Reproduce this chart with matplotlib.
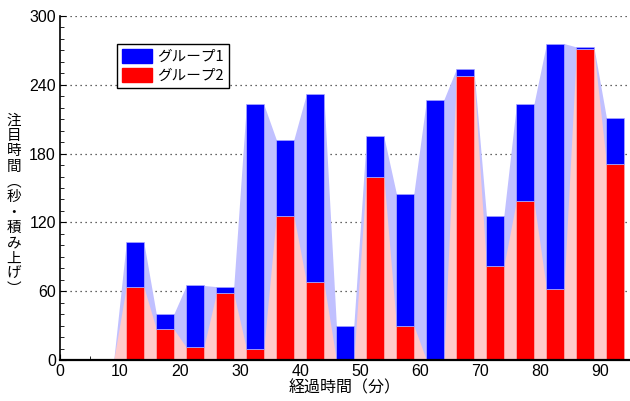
import numpy as np
import matplotlib
matplotlib.use('Agg')
import matplotlib.pyplot as plt
from matplotlib.ticker import MultipleLocator
from matplotlib.patches import Patch

plt.rcParams['font.family'] = ['Liberation Sans', 'Noto Sans CJK JP', 'DejaVu Sans']

# 経過時間（分）ごとの注目時間
minutes = [2.5, 7.5, 12.5, 17.5, 22.5, 27.5, 32.5, 37.5, 42.5, 47.5,
           52.5, 57.5, 62.5, 67.5, 72.5, 77.5, 82.5, 87.5, 92.5]
group2 = [0, 0, 64, 27, 11, 58, 10, 126, 68, 0,
          160, 30, 0, 248, 82, 139, 62, 271, 171]
group1 = [0, 0, 39, 13, 54, 6, 213, 66, 164, 30,
          35, 115, 227, 6, 44, 84, 214, 2, 40]
labels = ['グループ1', 'グループ2']

x = np.array(minutes)
g1 = np.array(group1)
g2 = np.array(group2)
total = g1 + g2
w = 2.9

fig = plt.figure(figsize=(6.3, 4.01), dpi=100)
ax = fig.add_axes([60/630, 41/401, 569/630, 344/401])

# 棒の間を台形でつなぐ塗りつぶし
xe = np.ravel(np.column_stack([x - w/2, x + w/2]))
ax.fill_between(xe, 0, np.repeat(total, 2), color='#c0c0ff', lw=0, zorder=1)
ax.fill_between(xe, 0, np.repeat(g2, 2), color='#ffcaca', lw=0, zorder=1.5)

ax.bar(x, g2, width=w, color='#ff0000', edgecolor='#ffb0b0', lw=0.5, zorder=2)
ax.bar(x, g1, width=w, bottom=g2, color='#0000ff', edgecolor='#b0b0ff', lw=0.5, zorder=2)

ax.set_xlim(0, 94.8)
ax.set_ylim(0, 300)
ax.set_yticks(range(0, 301, 60))
ax.xaxis.set_minor_locator(MultipleLocator(5))
ax.yaxis.set_minor_locator(MultipleLocator(10))
ax.set_xticks(range(0, 91, 10))
ax.grid(axis='y', which='major', ls=(0, (1, 3)), color='#333333', lw=0.9, zorder=0)
ax.set_axisbelow(True)

for s in ['top', 'right']:
    ax.spines[s].set_visible(False)
ax.spines['left'].set_linewidth(1.2)
ax.spines['bottom'].set_linewidth(1.6)
ax.tick_params(which='both', direction='in', labelsize=11.5, pad=3)
ax.tick_params(which='major', length=4)
ax.tick_params(which='minor', length=3)

ax.set_xlabel('経過時間（分）', fontsize=11.5, labelpad=0,
              family=['Noto Sans CJK JP', 'DejaVu Sans'])

# 縦書きの軸ラベル
ylab = '\n'.join('注目時間︵秒・積み上げ︶')
fig.text(14/630, 1 - 205/401, ylab, fontsize=10.5, linespacing=1.12,
         ha='center', va='center', family=['Noto Sans CJK JP', 'DejaVu Sans'])

handles = [Patch(facecolor='#0000ff', edgecolor='#0000ff'),
           Patch(facecolor='#ff0000', edgecolor='#ff0000')]
leg = ax.legend(handles, labels, loc='upper left', bbox_to_anchor=(0.088, 0.94),
                fancybox=False, framealpha=1, edgecolor='black',
                handlelength=2.0, handleheight=1.1, handletextpad=0.4,
                borderpad=0.35, labelspacing=0.25,
                prop={'family': ['Noto Sans CJK JP', 'DejaVu Sans'], 'size': 10.5})
leg.get_frame().set_linewidth(1.0)

fig.savefig('out.png', dpi=100)
